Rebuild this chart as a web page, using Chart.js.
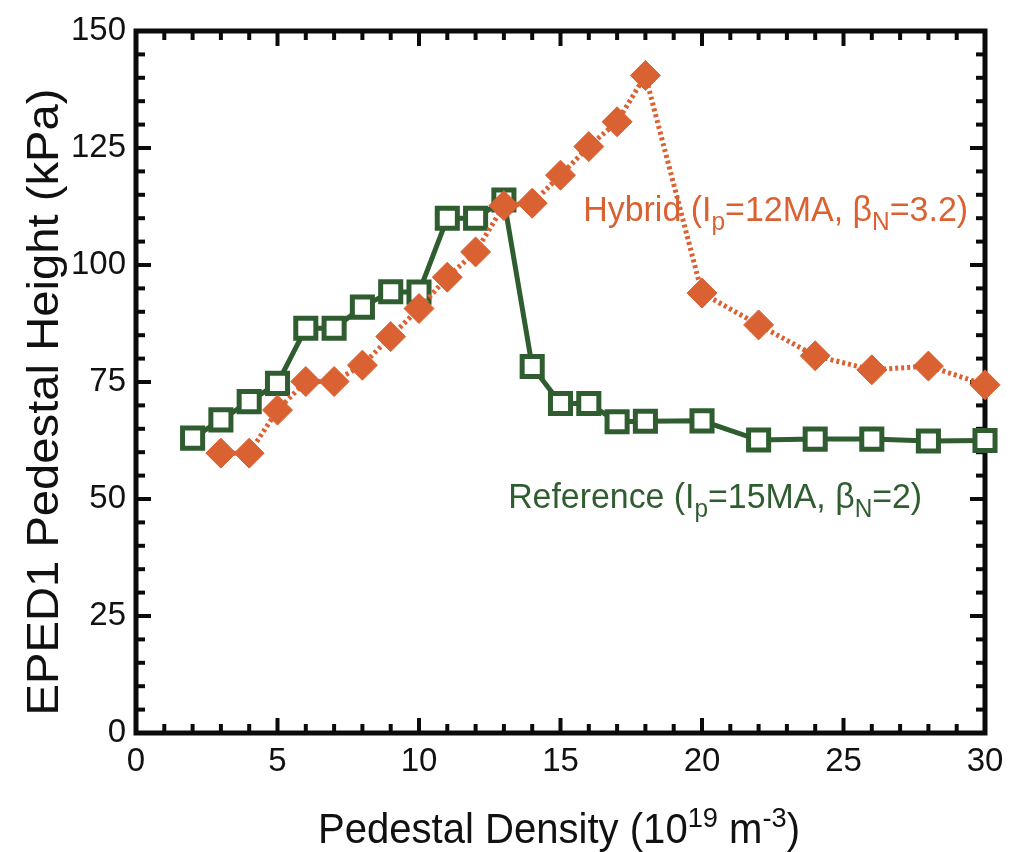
<!DOCTYPE html>
<html>
<head>
<meta charset="utf-8">
<script src="https://cdn.jsdelivr.net/npm/chart.js@4/dist/chart.umd.min.js"></script>
<style>
html,body{margin:0;padding:0;background:#fff;}
#wrap{width:1019px;height:852px;position:relative;}
</style>
</head>
<body>
<div id="wrap"><canvas id="c" width="1019" height="852"></canvas></div>
<script>
// ---- data ----
const refX = [2,3,4,5,6,7,8,9,10,11,12,13,14,15,16,17,18,20,22,24,26,28,30];
const refY = [63.0,66.9,70.8,74.7,86.5,86.5,91.0,94.3,94.2,110.0,110.0,113.9,78.3,70.4,70.4,66.5,66.6,66.7,62.6,62.8,62.8,62.4,62.5];
const hybX = [3,4,5,6,7,8,9,10,11,12,13,14,15,16,17,18,20,22,24,26,28,30];
const hybY = [59.8,59.8,69.0,75.1,75.1,78.6,84.7,90.7,97.4,102.8,112.7,113.2,119.2,125.3,130.6,140.5,94.0,87.2,80.6,77.6,78.4,74.4];
const xTicks = [0,5,10,15,20,25,30];
const yTicks = [0,25,50,75,100,125,150];

const GREEN = '#2f5d30';
const ORANGE = '#da6131';
const FONT = "'Liberation Sans', Arial, Helvetica, sans-serif";

function richWidth(ctx, parts, size){
  let w = 0;
  for (const p of parts){
    let s = (p.sub ? size*0.72 : p.sup ? size*0.68 : size);
    ctx.font = s + 'px ' + FONT;
    w += ctx.measureText(p.t).width;
  }
  return w;
}
// draws rich text starting at (x,y), horizontally squeezed to targetW if given
function drawRich(ctx, x, y, parts, size, color, targetW){
  ctx.save();
  ctx.fillStyle = color;
  ctx.textBaseline = 'alphabetic';
  ctx.textAlign = 'left';
  ctx.translate(x, y);
  if (targetW){ ctx.scale(targetW / richWidth(ctx, parts, size), 1); }
  let cx = 0;
  for (const p of parts){
    let s = size, dy = 0;
    if (p.sub){ s = size*0.72; dy = size*0.24; }
    if (p.sup){ s = size*0.68; dy = -size*0.38; }
    ctx.font = s + 'px ' + FONT;
    ctx.fillText(p.t, cx, dy);
    cx += ctx.measureText(p.t).width;
  }
  ctx.restore();
}

const framePlugin = {
  id: 'frame',
  beforeDatasetsDraw(chart){
    const {ctx, chartArea:{left,right,top,bottom}, scales:{x,y}} = chart;
    ctx.save();
    ctx.strokeStyle = '#0b0b0b';
    ctx.lineCap = 'butt';
    ctx.lineWidth = 4;
    const seg = (a,b,c,d)=>{ctx.beginPath();ctx.moveTo(a,b);ctx.lineTo(c,d);ctx.stroke();};
    for (let v = 1; v < 30; v++){
      const px = x.getPixelForValue(v);
      const len = (v % 5 === 0) ? 15 : 9;
      seg(px, bottom, px, bottom - len);
      seg(px, top, px, top + len);
    }
    for (let v = 5; v < 150; v += 5){
      const py = y.getPixelForValue(v);
      const len = (v % 25 === 0) ? 15 : 9;
      seg(left, py, left + len, py);
      seg(right, py, right - len, py);
    }
    ctx.lineWidth = 5;
    ctx.strokeRect(left, top, right - left, bottom - top);
    ctx.restore();
  },
  afterDatasetsDraw(chart){
    const {ctx, scales:{x,y}} = chart;
    ctx.save();
    // annotations
    const hyb = [{t:'Hybrid (I'},{t:'p',sub:true},{t:'=12MA, \u03B2'},{t:'N',sub:true},{t:'=3.2)'}];
    drawRich(ctx, x.getPixelForValue(15.8), y.getPixelForValue(109.3), hyb, 35, ORANGE, 385);
    const ref = [{t:'Reference (I'},{t:'p',sub:true},{t:'=15MA, \u03B2'},{t:'N',sub:true},{t:'=2)'}];
    drawRich(ctx, x.getPixelForValue(13.15), y.getPixelForValue(48.0), ref, 35, GREEN, 414);
    // x title
    const xt = [{t:'Pedestal Density (10'},{t:'19',sup:true},{t:' m'},{t:'-3',sup:true},{t:')'}];
    drawRich(ctx, 318, 843, xt, 42, '#111', 482);
    // y title
    ctx.translate(58, 402);
    ctx.rotate(-Math.PI/2);
    ctx.font = '44px ' + FONT;
    const tw = ctx.measureText('EPED1 Pedestal Height (kPa)').width;
    ctx.scale(627 / tw, 1);
    ctx.fillStyle = '#111';
    ctx.textAlign = 'center';
    ctx.textBaseline = 'alphabetic';
    ctx.fillText('EPED1 Pedestal Height (kPa)', 0, 0);
    ctx.restore();
  }
};

new Chart(document.getElementById('c'), {
  type: 'scatter',
  data: {
    datasets: [
      {
        label: 'Hybrid',
        data: hybX.map((v,i)=>({x:v, y:hybY[i]})),
        showLine: true,
        borderColor: ORANGE,
        backgroundColor: ORANGE,
        borderWidth: 5,
        borderDash: [3,3],
        pointStyle: 'rectRot',
        pointRadius: 15,
        pointBorderWidth: 1,
        pointBackgroundColor: ORANGE,
        pointBorderColor: ORANGE,
        clip: false
      },
      {
        label: 'Reference',
        data: refX.map((v,i)=>({x:v, y:refY[i]})),
        showLine: true,
        borderColor: GREEN,
        backgroundColor: '#fff',
        borderWidth: 5,
        pointStyle: 'rect',
        pointRadius: 14.2,
        pointBorderWidth: 5,
        pointBackgroundColor: '#fff',
        pointBorderColor: GREEN,
        clip: false
      }
    ]
  },
  options: {
    responsive: false,
    animation: false,
    devicePixelRatio: 1,
    layout: { padding: { left: 0, top: 31, right: 34, bottom: 0 } },
    plugins: { legend: { display: false }, tooltip: { enabled: false } },
    scales: {
      x: {
        type: 'linear', min: 0, max: 30,
        afterFit(s){ s.height = 119; },
        afterBuildTicks(s){ s.ticks = xTicks.map(v=>({value:v})); },
        ticks: { font: { size: 33, family: FONT }, color: '#111', padding: 9, maxRotation: 0 },
        grid: { display: false, drawTicks: false },
        border: { display: false },
        title: { display: false }
      },
      y: {
        type: 'linear', min: 0, max: 150,
        afterFit(s){ s.width = 136; },
        afterBuildTicks(s){ s.ticks = yTicks.map(v=>({value:v})); },
        ticks: { font: { size: 33, family: FONT }, color: '#111', padding: 10 },
        grid: { display: false, drawTicks: false },
        border: { display: false },
        title: { display: false }
      }
    }
  },
  plugins: [framePlugin]
});
</script>
</body>
</html>
